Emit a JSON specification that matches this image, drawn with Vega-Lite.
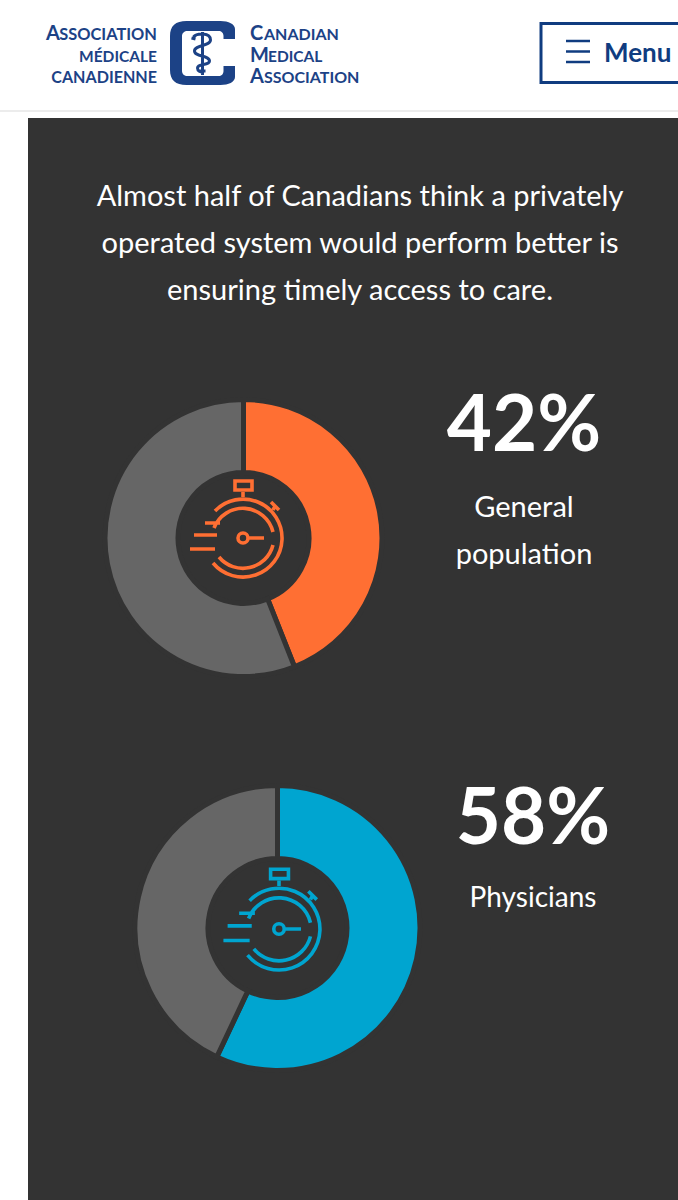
{
"$schema":"https://vega.github.io/schema/vega-lite/v6.json",
"width":678,"height":1200,"padding":0,
"autosize":{"type":"none"},
"background":"#ffffff",
"config":{"view":{"stroke":null},"axis":{"disable":true},"legend":{"disable":true},"text":{"font":"Lato"}},
"data":{"values":[{"a":1}]},
"layer":[
{"mark":{"type":"rect","color":"#333333"},"encoding":{"x":{"datum":28,"scale":{"domain":[0,678],"nice":false}},"x2":{"datum":678},"y":{"datum":118,"scale":{"domain":[1200,0],"nice":false}},"y2":{"datum":1200}}},
{"mark":{"type":"rule","color":"#ececec","strokeWidth":2},"encoding":{"x":{"datum":0},"x2":{"datum":678},"y":{"datum":111}}},
{"data":{"values":[{"group":"General population","segment":"General population: private better","value":44,"rank":1},{"group":"General population","segment":"Other","value":56,"rank":2}]},
 "mark":{"type":"arc","outerRadius":138.5,"innerRadius":65.5,"stroke":"#333333","strokeWidth":5},
 "encoding":{"x":{"datum":243.5},"y":{"datum":538},"theta":{"field":"value","type":"quantitative","scale":{"domain":[0,100]}},"order":{"field":"rank"},"color":{"field":"segment","scale":{"domain":["General population: private better","Physicians: private better","Other"],"range":["#ff6f33","#00a5d0","#666666"]}}}},
{"data":{"values":[{"group":"Physicians","segment":"Physicians: private better","value":57,"rank":1},{"group":"Physicians","segment":"Other","value":43,"rank":2}]},
 "mark":{"type":"arc","outerRadius":142.5,"innerRadius":69.5,"stroke":"#333333","strokeWidth":5},
 "encoding":{"x":{"datum":277.5},"y":{"datum":928},"theta":{"field":"value","type":"quantitative","scale":{"domain":[0,100]}},"order":{"field":"rank"},"color":{"field":"segment"}}},
{"mark":{"type":"point","opacity":1,"filled":false,"size":4,"color":"#ff6f33","strokeWidth":3.6,"shape":"M-28,-27 A39,39 0 1 1 -30,25 M-29,-10 A31,31 0 0 1 30,-6 M30,7 A31,31 0 0 1 -24,19 M-38,-15 L-23,-15 M-49,-3 L-26,-3 M-53,11 L-28,11 M0,-46 L0,-41 M-8,-57 L9,-57 L9,-48 L-8,-48 Z M28,-36 L36,-28 M30,-28 L32,-32 M5,0 A5,5 0 1 1 -5,0 A5,5 0 1 1 5,0 M5,0 L21,0"},"encoding":{"x":{"datum":243},"y":{"datum":538}}},
{"mark":{"type":"point","opacity":1,"filled":false,"size":4.4,"color":"#00a5d0","strokeWidth":3.6,"shape":"M-28,-27 A39,39 0 1 1 -30,25 M-29,-10 A31,31 0 0 1 30,-6 M30,7 A31,31 0 0 1 -24,19 M-38,-15 L-23,-15 M-49,-3 L-26,-3 M-53,11 L-28,11 M0,-46 L0,-41 M-8,-57 L9,-57 L9,-48 L-8,-48 Z M28,-36 L36,-28 M30,-28 L32,-32 M5,0 A5,5 0 1 1 -5,0 A5,5 0 1 1 5,0 M5,0 L21,0"},"encoding":{"x":{"datum":279},"y":{"datum":929}}},
{"data":{"values":[{"t":"Almost half of Canadians think a privately\noperated system would perform better is\nensuring timely access to care."}]},
 "mark":{"type":"text","color":"#ffffff","fontSize":29,"lineBreak":"\n","lineHeight":47,"align":"center","baseline":"middle"},"encoding":{"x":{"datum":360},"y":{"datum":197},"text":{"field":"t"}}},
{"data":{"values":[{"t":"42%"}]},"mark":{"type":"text","color":"#ffffff","fontSize":78,"fontWeight":"bold","align":"center","baseline":"middle"},"encoding":{"x":{"datum":524},"y":{"datum":428},"text":{"field":"t"}}},
{"data":{"values":[{"t":"58%"}]},"mark":{"type":"text","color":"#ffffff","fontSize":78,"fontWeight":"bold","align":"center","baseline":"middle"},"encoding":{"x":{"datum":533},"y":{"datum":821},"text":{"field":"t"}}},
{"data":{"values":[{"t":"General\npopulation"}]},"mark":{"type":"text","color":"#ffffff","fontSize":29,"lineBreak":"\n","lineHeight":47,"align":"center","baseline":"middle"},"encoding":{"x":{"datum":524},"y":{"datum":508},"text":{"field":"t"}}},
{"data":{"values":[{"t":"Physicians"}]},"mark":{"type":"text","color":"#ffffff","fontSize":28,"align":"center","baseline":"middle"},"encoding":{"x":{"datum":533},"y":{"datum":899},"text":{"field":"t"}}},
{"mark":{"type":"point","opacity":1,"filled":true,"size":4,"color":"#1c4286","strokeWidth":0,"shape":"M32.5,-14 L32.5,-24 C32.5,-29 26,-32 18,-32 L-16,-32 C-27,-32 -32.5,-27 -32.5,-17 L-32.5,17 C-32.5,27 -27,32 -16,32 L18,32 C26,32 32.5,29 32.5,24 L32.5,13 L21,13 L21,18 C21,21 19,23 16,23 L-15,23 C-18,23 -20.5,21 -20.5,18 L-20.5,-17 C-20.5,-20 -18,-22 -15,-22 L16,-22 C19,-22 21,-20 21,-17 L21,-14 Z"},"encoding":{"x":{"datum":202.5},"y":{"datum":53}}},
{"mark":{"type":"point","opacity":1,"filled":false,"size":4,"color":"#1c4286","strokeWidth":3,"shape":"M0,-21 L0,22 M-3,18 L3,18 M-9,-16 C-6,-20 8,-21 8,-13 C8,-7 -8,-8 -8,-2 C-8,4 7,2 7,8 C7,13 -5,10 -5,15 C-5,18 -2,19 0,19 M-11,-15 L-7,-14"},"encoding":{"x":{"datum":202.5},"y":{"datum":53}}},
{"data":{"values":[{"t":"A"}]},"mark":{"type":"text","color":"#1c4286","fontSize":20,"fontWeight":"bold","align":"right","baseline":"alphabetic"},"encoding":{"x":{"datum":60},"y":{"datum":40},"text":{"field":"t"}}},
{"data":{"values":[{"t":"SSOCIATION"}]},"mark":{"type":"text","color":"#1c4286","fontSize":16.4,"fontWeight":"bold","align":"right","baseline":"alphabetic"},"encoding":{"x":{"datum":157},"y":{"datum":40},"text":{"field":"t"}}},
{"data":{"values":[{"t":"MÉDICALE"}]},"mark":{"type":"text","color":"#1c4286","fontSize":15.5,"fontWeight":"bold","align":"right","baseline":"alphabetic"},"encoding":{"x":{"datum":157},"y":{"datum":61.5},"text":{"field":"t"}}},
{"data":{"values":[{"t":"CANADIENNE"}]},"mark":{"type":"text","color":"#1c4286","fontSize":16.1,"fontWeight":"bold","align":"right","baseline":"alphabetic"},"encoding":{"x":{"datum":157},"y":{"datum":82.5},"text":{"field":"t"}}},
{"data":{"values":[{"t":"C"}]},"mark":{"type":"text","color":"#1c4286","fontSize":20,"fontWeight":"bold","align":"left","baseline":"alphabetic"},"encoding":{"x":{"datum":250},"y":{"datum":40},"text":{"field":"t"}}},
{"data":{"values":[{"t":"ANADIAN"}]},"mark":{"type":"text","color":"#1c4286","fontSize":16,"fontWeight":"bold","align":"left","baseline":"alphabetic"},"encoding":{"x":{"datum":264},"y":{"datum":40},"text":{"field":"t"}}},
{"data":{"values":[{"t":"M"}]},"mark":{"type":"text","color":"#1c4286","fontSize":20,"fontWeight":"bold","align":"left","baseline":"alphabetic"},"encoding":{"x":{"datum":250},"y":{"datum":61.5},"text":{"field":"t"}}},
{"data":{"values":[{"t":"EDICAL"}]},"mark":{"type":"text","color":"#1c4286","fontSize":15.5,"fontWeight":"bold","align":"left","baseline":"alphabetic"},"encoding":{"x":{"datum":268},"y":{"datum":61.5},"text":{"field":"t"}}},
{"data":{"values":[{"t":"A"}]},"mark":{"type":"text","color":"#1c4286","fontSize":20,"fontWeight":"bold","align":"left","baseline":"alphabetic"},"encoding":{"x":{"datum":250},"y":{"datum":82.5},"text":{"field":"t"}}},
{"data":{"values":[{"t":"SSOCIATION"}]},"mark":{"type":"text","color":"#1c4286","fontSize":16,"fontWeight":"bold","align":"left","baseline":"alphabetic"},"encoding":{"x":{"datum":264},"y":{"datum":82.5},"text":{"field":"t"}}},
{"mark":{"type":"rule","color":"#103c80","strokeWidth":3},"encoding":{"x":{"datum":541},"x2":{"datum":678},"y":{"datum":23.5}}},
{"mark":{"type":"rule","color":"#103c80","strokeWidth":3},"encoding":{"x":{"datum":541},"x2":{"datum":678},"y":{"datum":82.5}}},
{"mark":{"type":"rule","color":"#103c80","strokeWidth":3},"encoding":{"x":{"datum":541},"y":{"datum":22},"y2":{"datum":84}}},
{"mark":{"type":"rule","color":"#103c80","strokeWidth":2.5},"encoding":{"x":{"datum":566},"x2":{"datum":590},"y":{"datum":41}}},
{"mark":{"type":"rule","color":"#103c80","strokeWidth":2.5},"encoding":{"x":{"datum":566},"x2":{"datum":590},"y":{"datum":51.5}}},
{"mark":{"type":"rule","color":"#103c80","strokeWidth":2.5},"encoding":{"x":{"datum":566},"x2":{"datum":590},"y":{"datum":62}}},
{"data":{"values":[{"t":"Menu"}]},"mark":{"type":"text","color":"#103c80","fontSize":26,"fontWeight":"bold","align":"left","baseline":"alphabetic"},"encoding":{"x":{"datum":604},"y":{"datum":62},"text":{"field":"t"}}}
]
}
